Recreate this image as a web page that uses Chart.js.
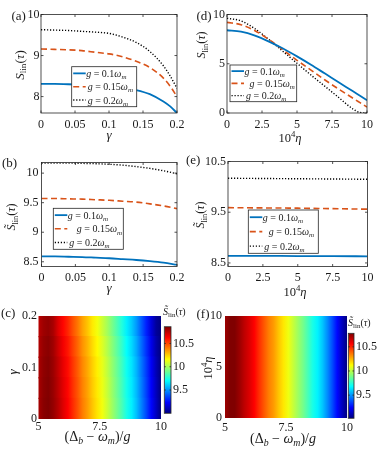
<!DOCTYPE html>
<html><head><meta charset="utf-8">
<script src="https://cdn.jsdelivr.net/npm/chart.js@4.4.1/dist/chart.umd.min.js"></script>
<style>
html,body{margin:0;padding:0;background:#fff}
#wrap{position:relative;width:381px;height:453px;overflow:hidden;background:#fff}
canvas{position:absolute;left:0;top:0}
</style></head><body><div id="wrap">
<canvas id="cA" width="381" height="453"></canvas>
<canvas id="cB" width="381" height="453"></canvas>
<canvas id="cC" width="381" height="453"></canvas>
<canvas id="cCb" width="381" height="453"></canvas>
<canvas id="cD" width="381" height="453"></canvas>
<canvas id="cE" width="381" height="453"></canvas>
<canvas id="cF" width="381" height="453"></canvas>
<canvas id="cFb" width="381" height="453"></canvas>
</div>
<script>
// ================= DATA =================
const seriesLabels = ['0.1', '0.15', '0.2'];

// (a) S_lin vs gamma
const gammaA = [0, 0.02, 0.04, 0.06, 0.08, 0.10, 0.12, 0.14, 0.16, 0.18, 0.19, 0.20];
const aG01  = [8.31, 8.31, 8.30, 8.29, 8.28, 8.26, 8.22, 8.16, 8.06, 7.88, 7.76, 7.60];
const aG015 = [9.16, 9.15, 9.14, 9.12, 9.08, 9.04, 8.97, 8.86, 8.71, 8.45, 8.25, 8.00];
const aG02  = [9.63, 9.62, 9.61, 9.59, 9.57, 9.54, 9.45, 9.32, 9.10, 8.75, 8.50, 8.20];

// (b) S~_lin vs gamma
const gammaB = [0, 0.02, 0.04, 0.06, 0.08, 0.10, 0.12, 0.14, 0.16, 0.18, 0.20];
const bG01  = [8.59, 8.59, 8.585, 8.58, 8.57, 8.56, 8.545, 8.53, 8.51, 8.485, 8.45];
const bG015 = [9.57, 9.57, 9.565, 9.56, 9.55, 9.54, 9.525, 9.51, 9.48, 9.445, 9.40];
const bG02  = [10.17, 10.17, 10.17, 10.165, 10.16, 10.15, 10.135, 10.11, 10.08, 10.04, 9.99];

// (d) S_lin vs 10^4 eta
const etaD = [0, 1, 2, 3, 4, 5, 6, 7, 8, 9, 9.5, 10];
const dG01  = [8.40, 8.25, 7.85, 7.25, 6.55, 5.75, 4.90, 4.00, 3.10, 2.20, 1.75, 1.30];
const dG015 = [9.20, 8.97, 8.35, 7.45, 6.40, 5.35, 4.35, 3.35, 2.40, 1.50, 1.05, 0.60];
const dG02  = [9.62, 9.35, 8.55, 7.45, 6.25, 5.05, 3.85, 2.70, 1.55, 0.40, 0.05, 0.00];

// (e) S~_lin vs 10^4 eta
const etaE = [0, 2.5, 5, 7.5, 10];
const eG01  = [8.64, 8.64, 8.635, 8.635, 8.63];
const eG015 = [9.59, 9.585, 9.58, 9.57, 9.56];
const eG02  = [10.17, 10.165, 10.16, 10.155, 10.15];

// ticks
const gammaTicks = [0, 0.05, 0.1, 0.15, 0.2];
const gammaTickLabels = ['0', '0.05', '0.1', '0.15', '0.2'];
const etaTicks = [0, 2.5, 5, 7.5, 10];
const etaTickLabels = ['0', '2.5', '5', '7.5', '10'];
const aYTicks = [8, 9, 10];        const aYLabels = ['8', '9', '10'];
const dYTicks = [0, 5, 10];        const dYLabels = ['0', '5', '10'];
const bYTicks = [8.5, 9, 9.5, 10]; const bYLabels = ['8.5', '9', '9.5', '10'];
const eYTicks = [8.5, 9.5, 10.5];  const eYLabels = ['8.5', '9.5', '10.5'];
const heatXTicks = [5, 7.5, 10];   const heatXLabels = ['5', '7.5', '10'];
const cYTicks = [0, 0.1, 0.2];     const cYLabels = ['0', '0.1', '0.2'];
const fYTicks = [0, 5, 10];        const fYLabels = ['0', '5', '10'];
const cbarTicks = [9.5, 10, 10.5]; const cbarLabels = ['9.5', '10', '10.5'];

// heat maps: (Delta_b - omega_m)/g grid
const deltaGrid = [5.0, 5.2, 5.4, 5.6, 5.8, 6.0, 6.2, 6.4, 6.6, 6.8, 7.0, 7.2, 7.4,
                   7.6, 7.8, 8.0, 8.2, 8.4, 8.6, 8.8, 9.0, 9.2, 9.4, 9.6, 9.8, 10.0];
const cGammaEdges = [0, 0.04, 0.08, 0.12, 0.16, 0.20];
const cHeat = [
  [10.79,10.84,10.86,10.82,10.76,10.69,10.63,10.55,10.48,10.40,10.34,10.27,10.21,10.14,10.07,9.99,9.91,9.83,9.74,9.67,9.58,9.47,9.36,9.24,9.12,9.00],
  [10.785,10.835,10.855,10.815,10.75,10.68,10.62,10.54,10.47,10.39,10.33,10.26,10.20,10.13,10.06,9.98,9.90,9.82,9.73,9.66,9.57,9.46,9.35,9.23,9.11,8.99],
  [10.78,10.83,10.85,10.81,10.74,10.67,10.61,10.53,10.46,10.38,10.32,10.25,10.19,10.12,10.05,9.97,9.89,9.81,9.72,9.65,9.56,9.45,9.34,9.22,9.10,8.98],
  [10.77,10.82,10.84,10.80,10.72,10.65,10.59,10.51,10.44,10.36,10.30,10.23,10.17,10.10,10.03,9.95,9.87,9.79,9.70,9.63,9.54,9.43,9.32,9.20,9.08,8.96],
  [10.755,10.805,10.825,10.785,10.69,10.62,10.56,10.48,10.41,10.33,10.27,10.20,10.14,10.07,10.00,9.92,9.84,9.76,9.67,9.60,9.51,9.40,9.29,9.17,9.05,8.93]
];
const fEtaEdges = [0, 10];
const fHeat = [
  [10.73,10.79,10.80,10.73,10.67,10.62,10.56,10.48,10.41,10.34,10.29,10.22,10.16,10.09,10.02,9.95,9.88,9.80,9.72,9.66,9.58,9.48,9.37,9.25,9.13,9.02]
];
const cRange = [9.0, 10.86];
const fRange = [9.02, 10.78];

// ================= STYLE / HELPERS =================
const W = 381, H = 453;
const SERIF = '"Liberation Serif", "Times New Roman", serif';
const TXT = '#1a1a1a';
Chart.defaults.font.family = SERIF;
Chart.defaults.font.size = 12;
Chart.defaults.color = TXT;
const STY = [
  {color: '#0072BD', w: 1.8, dash: []},
  {color: '#D95319', w: 1.6, dash: [6, 3.5]},
  {color: '#000000', w: 1.4, dash: [1.2, 1.8]}
];

function jet(f) {
  f = Math.max(0, Math.min(1, f));
  const c = v => Math.round(255 * Math.max(0, Math.min(1, v)));
  return `rgb(${c(1.5 - Math.abs(4 * f - 3))},${c(1.5 - Math.abs(4 * f - 2))},${c(1.5 - Math.abs(4 * f - 1))})`;
}

const S = (t, o) => Object.assign({t}, o || {});
const SLIN   = [S('S', {it: 1}), S('lin', {sub: 1}), S('('), S('τ', {it: 1}), S(')')];
const SLIN_T = [S('S\u0303', {it: 1}), S('lin', {sub: 1}), S('('), S('τ', {it: 1}), S(')')];
const GAM = [S('γ', {it: 1})];
const ETA = [S('10'), S('4', {sup: 1}), S('η', {it: 1})];
const DEL = [S('('), S('Δ'), S('b', {it: 1, sub: 1}), S(' − '), S('ω', {it: 1}), S('m', {it: 1, sub: 1}), S(')/'), S('g', {it: 1})];
const legSegs = lab => [S('g', {it: 1}), S(' = ' + lab), S('ω', {it: 1}), S('m', {it: 1, sub: 1})];

function drawRich(ctx, segs, x, y, size, align, rot) {
  ctx.save();
  ctx.translate(x, y);
  if (rot) ctx.rotate(rot * Math.PI / 180);
  const parts = segs.map(s => {
    const fs = (s.sub || s.sup) ? size * 0.7 : size;
    const font = (s.it ? 'italic ' : '') + fs + 'px ' + SERIF;
    ctx.font = font;
    return {s, font, w: ctx.measureText(s.t).width};
  });
  const total = parts.reduce((a, p) => a + p.w, 0);
  let cx = align === 'left' ? 0 : -total / 2;
  ctx.fillStyle = TXT; ctx.textBaseline = 'alphabetic'; ctx.textAlign = 'left';
  const base = size * 0.35;
  for (const p of parts) {
    ctx.font = p.font;
    const dy = p.s.sub ? size * 0.22 : (p.s.sup ? -size * 0.4 : 0);
    ctx.fillText(p.s.t, cx, base + dy);
    cx += p.w;
  }
  ctx.restore();
}

function textPlugin(items) {
  return {id: 'texts', afterDraw(chart) {
    items.forEach(it => drawRich(chart.ctx, it.segs, it.x, it.y, it.size, it.align, it.rot));
  }};
}
function framePlugin(tick) {
  return {id: 'frame', afterDatasetsDraw(chart) {
    const ctx = chart.ctx, a = chart.chartArea, xs = chart.scales.x, ys = chart.scales.y;
    ctx.save();
    ctx.strokeStyle = '#262626'; ctx.lineWidth = 0.8;
    ctx.strokeRect(a.left, a.top, a.right - a.left, a.bottom - a.top);
    ctx.beginPath();
    if (xs && xs.options.display !== false) xs.ticks.forEach(t => {
      const p = xs.getPixelForValue(t.value);
      ctx.moveTo(p, a.bottom); ctx.lineTo(p, a.bottom - tick);
      ctx.moveTo(p, a.top); ctx.lineTo(p, a.top + tick);
    });
    ys.ticks.forEach(t => {
      const p = ys.getPixelForValue(t.value);
      ctx.moveTo(a.left, p); ctx.lineTo(a.left + tick, p);
      ctx.moveTo(a.right, p); ctx.lineTo(a.right - tick, p);
    });
    ctx.stroke();
    ctx.restore();
  }};
}
function legendPlugin(box, labels, offs) {
  return {id: 'boxLegend', afterDraw(chart) {
    const ctx = chart.ctx, [l, t, r, b] = box;
    ctx.save();
    ctx.fillStyle = '#fff'; ctx.fillRect(l, t, r - l, b - t);
    ctx.strokeStyle = '#262626'; ctx.lineWidth = 0.8; ctx.strokeRect(l, t, r - l, b - t);
    const n = chart.data.datasets.length, rh = (b - t) / n;
    chart.data.datasets.forEach((ds, i) => {
      const cy = t + rh * (i + 0.5);
      ctx.save();
      ctx.strokeStyle = ds.borderColor; ctx.lineWidth = ds.borderWidth; ctx.setLineDash(ds.borderDash || []);
      ctx.beginPath(); ctx.moveTo(l + 1.5, cy); ctx.lineTo(l + 14, cy); ctx.stroke();
      ctx.restore();
      drawRich(ctx, legSegs(labels[i]), l + 14.5 + offs[i], cy, 10, 'left');
    });
    ctx.restore();
  }};
}

function axisOpts(range, ticks, labels, pad, fitKey, fitVal, extra) {
  return Object.assign({
    type: 'linear', min: range[0], max: range[1], offset: false,
    grid: {display: false, drawTicks: false, offset: false}, border: {display: false},
    afterFit: s => { s[fitKey] = fitVal; },
    afterBuildTicks: s => { s.ticks = ticks.map(v => ({value: v})); },
    ticks: {padding: pad, maxRotation: 0, minRotation: 0, autoSkip: false,
      font: {size: 12, family: SERIF},
      callback: v => { const i = ticks.indexOf(v); return i >= 0 ? labels[i] : ''; }}
  }, extra || {});
}
const baseOpts = {responsive: false, animation: false, devicePixelRatio: 1, events: [],
  plugins: {legend: {display: false}, tooltip: {enabled: false}}};

function linePanel(id, g, xs, sets, xRange, yRange, xT, xL, yT, yL, legBox, legOffs, texts) {
  new Chart(document.getElementById(id), {
    type: 'line',
    data: {datasets: sets.map((vals, k) => ({
      label: seriesLabels[k],
      data: xs.map((x, i) => ({x, y: vals[i]})),
      borderColor: STY[k].color, borderWidth: STY[k].w, borderDash: STY[k].dash,
      pointRadius: 0, fill: false, cubicInterpolationMode: 'monotone'
    }))},
    options: Object.assign({}, baseOpts, {
      layout: {padding: {left: g.l - 30, top: g.t, right: W - g.r, bottom: H - g.b - 20}},
      scales: {
        x: axisOpts(xRange, xT, xL, g.xp, 'height', 20),
        y: axisOpts(yRange, yT, yL, g.yp, 'width', 30)
      }
    }),
    plugins: [framePlugin(2.5), legendPlugin(legBox, seriesLabels, legOffs), textPlugin(texts)]
  });
}

function rowGradient(chart, xs, vals, range) {
  const sx = chart.scales.x;
  if (!sx || !chart.chartArea) return jet(0.5);
  const x0 = sx.getPixelForValue(xs[0]), x1 = sx.getPixelForValue(xs[xs.length - 1]);
  if (!isFinite(x0) || !isFinite(x1) || x1 === x0) return jet(0.5);
  const gr = chart.ctx.createLinearGradient(x0, 0, x1, 0);
  xs.forEach((x, i) => gr.addColorStop((sx.getPixelForValue(x) - x0) / (x1 - x0),
    jet((vals[i] - range[0]) / (range[1] - range[0]))));
  return gr;
}

function heatPanel(id, g, heat, yEdges, range, yRange, yT, yL, texts) {
  new Chart(document.getElementById(id), {
    type: 'bar',
    data: {datasets: heat.map((row, r) => ({
      data: deltaGrid.map((d, i) => ({x: d, y: [yEdges[r], yEdges[r + 1]], v: row[i]})),
      grouped: false, barPercentage: 1, categoryPercentage: 1, inflateAmount: 0.7,
      borderWidth: 0,
      backgroundColor: ctx => rowGradient(ctx.chart, deltaGrid, row, range)
    }))},
    options: Object.assign({}, baseOpts, {
      layout: {padding: {left: g.l - 30, top: g.t, right: W - g.r, bottom: H - g.b - 20}},
      scales: {
        x: axisOpts([5, 10], heatXTicks, heatXLabels, g.xp, 'height', 20),
        y: axisOpts(yRange, yT, yL, g.yp, 'width', 30)
      }
    }),
    plugins: [textPlugin(texts)]
  });
}

function colorbar(id, g, range) {
  new Chart(document.getElementById(id), {
    type: 'bar',
    data: {labels: [''], datasets: [{
      data: [range], barPercentage: 1, categoryPercentage: 1, borderWidth: 0, inflateAmount: 0,
      backgroundColor: ctx => {
        const ys = ctx.chart.scales.y;
        if (!ys || !ctx.chart.chartArea) return jet(0.5);
        const yb = ys.getPixelForValue(range[0]), yt = ys.getPixelForValue(range[1]);
        if (!isFinite(yb) || !isFinite(yt) || yb === yt) return jet(0.5);
        const gr = ctx.chart.ctx.createLinearGradient(0, yb, 0, yt);
        [0, 0.125, 0.375, 0.625, 0.875, 1].forEach(f => gr.addColorStop(f, jet(f)));
        return gr;
      }
    }]},
    options: Object.assign({}, baseOpts, {
      layout: {padding: {left: g.l, top: g.t, right: W - g.r - 25, bottom: H - g.b}},
      scales: {
        x: {display: false},
        y: axisOpts(range, cbarTicks, cbarLabels, 2, 'width', 25, {position: 'right'})
      }
    }),
    plugins: [framePlugin(1.5)]
  });
}

// ================= PANELS =================
linePanel('cA', {l: 41, t: 14.5, r: 177, b: 113, xp: 4.8, yp: 1.5},
  gammaA, [aG01, aG015, aG02], [0, 0.2], [7.6, 10],
  gammaTicks, gammaTickLabels, aYTicks, aYLabels,
  [71.7, 66.7, 136.7, 106.7], [0, 1.5, 1.5],
  [{segs: [S('(a)')], x: 11.5, y: 15, size: 13, align: 'left'},
   {segs: SLIN, x: 19, y: 65, size: 13, rot: -90},
   {segs: GAM, x: 109, y: 134, size: 13}]);

linePanel('cD', {l: 227, t: 14.5, r: 367, b: 113, xp: 4.8, yp: 2},
  etaD, [dG01, dG015, dG02], [0, 10], [0, 10],
  etaTicks, etaTickLabels, dYTicks, dYLabels,
  [230, 65, 296.7, 101.7], [0, 5, 1.5],
  [{segs: [S('(d)')], x: 196.5, y: 15, size: 13, align: 'left'},
   {segs: SLIN, x: 201, y: 45, size: 12, rot: -90},
   {segs: ETA, x: 290, y: 138, size: 12.5}]);

linePanel('cB', {l: 41.5, t: 162.5, r: 177, b: 266.5, xp: 4.3, yp: 3},
  gammaB, [bG01, bG015, bG02], [0, 0.2], [8.42, 10.18],
  gammaTicks, gammaTickLabels, bYTicks, bYLabels,
  [53.3, 208.3, 123.3, 249.3], [0, 9, 1.5],
  [{segs: [S('(b)')], x: 2, y: 162, size: 13, align: 'left'},
   {segs: SLIN_T, x: 11, y: 217, size: 12, rot: -90},
   {segs: GAM, x: 109, y: 287, size: 13}]);

linePanel('cE', {l: 228, t: 161.5, r: 367.5, b: 266.5, xp: 4.3, yp: 2},
  etaE, [eG01, eG015, eG02], [0, 10], [8.43, 10.5],
  etaTicks, etaTickLabels, eYTicks, eYLabels,
  [248.3, 210, 318.3, 253.3], [0, 6, 1.5],
  [{segs: [S('(e)')], x: 186, y: 159, size: 13, align: 'left'},
   {segs: SLIN_T, x: 200, y: 215, size: 12, rot: -90},
   {segs: ETA, x: 295, y: 292, size: 12.5}]);

heatPanel('cC', {l: 38.5, t: 316, r: 161, b: 419, xp: 0.8, yp: 1.5},
  cHeat, cGammaEdges, cRange, [0, 0.2], cYTicks, cYLabels,
  [{segs: [S('(c)')], x: 1, y: 312.5, size: 13, align: 'left'},
   {segs: GAM, x: 12, y: 372, size: 13, rot: -90},
   {segs: DEL, x: 97.5, y: 436, size: 14},
   {segs: SLIN_T, x: 163, y: 311, size: 10, align: 'left'}]);
colorbar('cCb', {l: 164.3, t: 326.7, r: 171, b: 413.3}, cRange);

heatPanel('cF', {l: 225, t: 316, r: 347, b: 418, xp: 2.8, yp: 3},
  fHeat, fEtaEdges, fRange, [0, 10], fYTicks, fYLabels,
  [{segs: [S('(f)')], x: 196.5, y: 313, size: 13, align: 'left'},
   {segs: ETA, x: 208, y: 368, size: 12.5, rot: -90},
   {segs: DEL, x: 283, y: 438, size: 14},
   {segs: SLIN_T, x: 348, y: 322, size: 10, align: 'left'}]);
colorbar('cFb', {l: 348.3, t: 333.3, r: 354, b: 418.3}, fRange);
</script></body></html>
